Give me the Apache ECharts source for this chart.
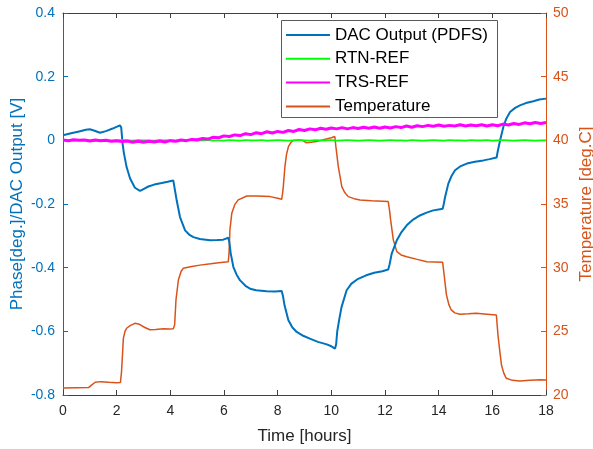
<!DOCTYPE html>
<html>
<head>
<meta charset="utf-8">
<script src="https://cdn.jsdelivr.net/npm/echarts@6/dist/echarts.min.js"></script>
<style>
html,body{margin:0;padding:0;background:#fff;}
#chart{width:593px;height:449px;}
</style>
</head>
<body>
<div id="chart"></div>
<script>
// ---- Data ----
var seriesNames = ['DAC Output (PDFS)', 'RTN-REF', 'TRS-REF', 'Temperature'];
var xTicks = [0, 2, 4, 6, 8, 10, 12, 14, 16, 18];
var leftTicks = [-0.8, -0.6, -0.4, -0.2, 0, 0.2, 0.4];
var rightTicks = [20, 25, 30, 35, 40, 45, 50];

var dacTime = [0.00,0.30,0.60,0.85,1.00,1.15,1.38,1.60,1.85,2.12,2.17,2.22,2.27,2.37,2.50,2.68,2.87,3.00,3.18,3.40,3.68,3.90,4.11,4.17,4.24,4.36,4.55,4.70,4.86,5.10,5.48,5.75,5.97,6.16,6.20,6.25,6.35,6.47,6.60,6.80,6.97,7.20,7.59,7.90,8.15,8.20,8.26,8.40,8.55,8.71,8.95,9.20,9.50,9.83,10.00,10.14,10.18,10.22,10.30,10.38,10.57,10.75,11.00,11.30,11.60,11.90,12.12,12.17,12.25,12.44,12.60,12.81,13.05,13.30,13.55,13.80,14.00,14.15,14.19,14.24,14.36,14.48,14.61,14.80,15.05,15.35,15.67,15.90,16.16,16.20,16.29,16.41,16.52,16.66,16.85,17.03,17.25,17.53,17.75,18.00];
var dacOutput = [0.016,0.022,0.028,0.033,0.035,0.031,0.024,0.029,0.037,0.047,0.040,-0.010,-0.040,-0.084,-0.120,-0.149,-0.159,-0.153,-0.145,-0.139,-0.134,-0.130,-0.126,-0.128,-0.190,-0.241,-0.283,-0.296,-0.304,-0.310,-0.314,-0.313,-0.312,-0.306,-0.320,-0.355,-0.398,-0.422,-0.440,-0.457,-0.466,-0.471,-0.474,-0.475,-0.473,-0.490,-0.520,-0.565,-0.588,-0.602,-0.614,-0.623,-0.633,-0.641,-0.647,-0.654,-0.640,-0.600,-0.560,-0.524,-0.471,-0.450,-0.435,-0.424,-0.416,-0.411,-0.406,-0.390,-0.356,-0.314,-0.290,-0.267,-0.249,-0.236,-0.227,-0.220,-0.217,-0.215,-0.200,-0.178,-0.136,-0.112,-0.094,-0.082,-0.073,-0.067,-0.063,-0.059,-0.054,-0.035,0.000,0.042,0.068,0.089,0.102,0.110,0.117,0.123,0.128,0.131];

var tempTime = [0.00,0.50,0.95,1.05,1.20,1.40,1.70,2.00,2.14,2.18,2.21,2.25,2.31,2.37,2.50,2.68,2.85,3.05,3.24,3.45,3.74,3.95,4.11,4.16,4.21,4.30,4.40,4.48,4.80,5.10,5.50,5.80,6.16,6.19,6.22,6.29,6.40,6.53,6.85,7.20,7.72,8.00,8.15,8.18,8.21,8.27,8.33,8.40,8.50,8.58,8.80,8.95,9.07,9.25,9.44,9.60,9.81,10.00,10.13,10.17,10.26,10.39,10.50,10.63,10.85,11.07,11.50,12.12,12.17,12.21,12.31,12.44,12.60,12.81,13.20,13.56,13.85,14.15,14.20,14.29,14.38,14.47,14.60,14.79,15.10,15.40,15.80,16.15,16.21,16.28,16.34,16.43,16.52,16.75,17.02,17.40,17.80,18.00];
var temperature = [20.55,20.57,20.58,20.75,21.00,21.05,21.00,20.97,20.98,21.80,22.90,24.45,25.00,25.24,25.45,25.63,25.55,25.30,25.12,25.15,25.20,25.18,25.20,25.50,27.46,29.03,29.70,29.95,30.10,30.20,30.30,30.38,30.47,31.20,32.96,34.27,34.95,35.32,35.63,35.62,35.58,35.45,35.37,35.80,36.36,37.93,38.90,39.50,39.85,39.98,40.03,39.98,39.80,39.85,39.90,39.98,40.10,40.20,40.30,39.50,37.93,36.36,35.90,35.58,35.42,35.32,35.25,35.19,34.50,33.75,32.18,31.26,31.00,30.86,30.65,30.47,30.45,30.42,29.50,27.86,27.10,26.68,26.45,26.34,26.38,26.42,26.35,26.28,24.71,23.40,22.36,21.70,21.31,21.15,21.10,21.15,21.20,21.18];

var refTime = [0.0,0.2,0.4,0.6,0.8,1.0,1.2,1.4,1.6,1.8,2.0,2.2,2.4,2.6,2.8,3.0,3.2,3.4,3.6,3.8,4.0,4.2,4.4,4.6,4.8,5.0,5.2,5.4,5.6,5.8,6.0,6.2,6.4,6.6,6.8,7.0,7.2,7.4,7.6,7.8,8.0,8.2,8.4,8.6,8.8,9.0,9.2,9.4,9.6,9.8,10.0,10.2,10.4,10.6,10.8,11.0,11.2,11.4,11.6,11.8,12.0,12.2,12.4,12.6,12.8,13.0,13.2,13.4,13.6,13.8,14.0,14.2,14.4,14.6,14.8,15.0,15.2,15.4,15.6,15.8,16.0,16.2,16.4,16.6,16.8,17.0,17.2,17.4,17.6,17.8,18.0];
var trsRef = [0.001,-0.001,0.002,0.000,0.001,-0.002,0.001,-0.001,0.000,-0.003,-0.001,-0.004,-0.002,-0.006,-0.003,-0.006,-0.003,-0.005,-0.002,-0.005,-0.001,-0.003,0.001,-0.001,0.003,0.002,0.006,0.004,0.010,0.008,0.014,0.012,0.017,0.015,0.021,0.018,0.024,0.021,0.027,0.023,0.028,0.025,0.031,0.028,0.034,0.031,0.036,0.033,0.038,0.035,0.039,0.036,0.040,0.036,0.040,0.037,0.041,0.038,0.042,0.038,0.042,0.039,0.043,0.040,0.045,0.041,0.046,0.043,0.047,0.044,0.048,0.044,0.047,0.045,0.049,0.045,0.048,0.046,0.049,0.045,0.049,0.046,0.051,0.048,0.053,0.050,0.055,0.052,0.056,0.053,0.056];
var rtnRef = [0.000,0.001,-0.001,0.000,0.001,0.000,-0.001,0.001,0.000,-0.001,0.000,0.001,0.000,-0.001,0.001,0.000,0.000,-0.001,0.001,0.000,0.001,-0.001,0.000,0.001,0.000,-0.001,0.000,0.001,0.000,0.000,-0.001,0.001,0.000,-0.001,0.001,0.000,0.000,0.001,-0.001,0.000,0.001,0.000,-0.001,0.000,0.001,0.000,-0.001,0.001,0.000,0.000,0.001,-0.001,0.000,0.001,0.000,-0.001,0.000,0.001,0.000,-0.001,0.000,0.001,0.000,0.000,-0.001,0.001,0.000,-0.001,0.000,0.001,0.000,-0.001,0.001,0.000,0.000,-0.001,0.001,0.000,0.000,0.001,-0.001,0.000,0.001,0.000,-0.001,0.000,0.001,0.000,-0.001,0.000,0.000];

// ---- Build ----
function pairs(xs, ys) { return xs.map(function (x, i) { return [x, ys[i]]; }); }

var FONT = '"Liberation Sans", Arial, Helvetica, sans-serif';
var BLUE = '#0072BD', ORANGE = '#D95319', AXIS = '#404040', TEXT = '#262626';

var chart = echarts.init(document.getElementById('chart'), null, { renderer: 'canvas' });
chart.setOption({
  animation: false,
  backgroundColor: '#ffffff',
  textStyle: { fontFamily: FONT },
  grid: { left: 63, right: 47, top: 13, bottom: 54, containLabel: false, outerBoundsMode: 'none' },
  legend: {
    orient: 'vertical',
    left: 286, top: 25, padding: 0,
    itemWidth: 44, itemHeight: 2, itemGap: 3.8,
    icon: 'rect',
    data: seriesNames,
    textStyle: { fontSize: 17, color: '#000', fontFamily: FONT, lineHeight: 20 },
    z: 10
  },
  graphic: [{
    type: 'rect', z: 5,
    shape: { x: 281.5, y: 20.5, width: 216, height: 97 },
    style: { fill: '#ffffff', stroke: '#5a5a5a', lineWidth: 1 }
  }],
  xAxis: [{
    type: 'value', position: 'bottom', min: xTicks[0], max: xTicks[xTicks.length - 1], interval: 2,
    name: 'Time [hours]', nameLocation: 'middle', nameGap: 33,
    nameTextStyle: { fontSize: 17, color: TEXT, fontFamily: FONT },
    axisLine: { show: true, onZero: false, lineStyle: { color: AXIS, width: 1 } },
    axisTick: { show: true, inside: true, length: 5, lineStyle: { color: AXIS } },
    axisLabel: { fontSize: 14, color: TEXT, margin: 9, fontFamily: FONT },
    splitLine: { show: false }
  }, {
    type: 'value', position: 'top', min: xTicks[0], max: xTicks[xTicks.length - 1], interval: 2,
    axisLine: { show: true, onZero: false, lineStyle: { color: AXIS, width: 1 } },
    axisTick: { show: true, inside: true, length: 5, lineStyle: { color: AXIS } },
    axisLabel: { show: false },
    splitLine: { show: false }
  }],
  yAxis: [{
    type: 'value', position: 'left', min: leftTicks[0], max: leftTicks[leftTicks.length - 1], interval: 0.2,
    name: 'Phase[deg.]/DAC Output [V]', nameLocation: 'middle', nameGap: 37, nameRotate: 90,
    nameMoveOverlap: false,
    nameTextStyle: { fontSize: 17, color: BLUE, fontFamily: FONT },
    axisLine: { show: true, onZero: false, lineStyle: { color: BLUE, width: 1 } },
    axisTick: { show: true, inside: true, length: 5, lineStyle: { color: BLUE } },
    axisLabel: { fontSize: 14, color: BLUE, margin: 8, fontFamily: FONT,
      formatter: function (v) { return String(Math.round(v * 10) / 10); } },
    splitLine: { show: false }
  }, {
    type: 'value', position: 'right', min: rightTicks[0], max: rightTicks[rightTicks.length - 1], interval: 5,
    name: 'Temperature [deg.C]', nameLocation: 'middle', nameGap: 32, nameRotate: 90,
    nameMoveOverlap: false,
    nameTextStyle: { fontSize: 17, color: ORANGE, fontFamily: FONT },
    axisLine: { show: true, onZero: false, lineStyle: { color: ORANGE, width: 1 } },
    axisTick: { show: true, inside: true, length: 5, lineStyle: { color: ORANGE } },
    axisLabel: { fontSize: 14, color: ORANGE, margin: 7, fontFamily: FONT },
    splitLine: { show: false }
  }],
  series: [{
    name: seriesNames[0], type: 'line', xAxisIndex: 0, yAxisIndex: 0,
    data: pairs(dacTime, dacOutput), symbol: 'none', smooth: false,
    lineStyle: { color: BLUE, width: 2 }, itemStyle: { color: BLUE }, z: 3
  }, {
    name: seriesNames[1], type: 'line', xAxisIndex: 0, yAxisIndex: 0,
    data: pairs(refTime, rtnRef), symbol: 'none',
    lineStyle: { color: '#00FF00', width: 1.6 }, itemStyle: { color: '#00FF00' }, z: 3
  }, {
    name: seriesNames[2], type: 'line', xAxisIndex: 0, yAxisIndex: 0,
    data: pairs(refTime, trsRef), symbol: 'none',
    lineStyle: { color: '#FF00FF', width: 3 }, itemStyle: { color: '#FF00FF' }, z: 3
  }, {
    name: seriesNames[3], type: 'line', xAxisIndex: 0, yAxisIndex: 1,
    data: pairs(tempTime, temperature), symbol: 'none',
    lineStyle: { color: ORANGE, width: 1.5 }, itemStyle: { color: ORANGE }, z: 2
  }]
});
</script>
</body>
</html>
